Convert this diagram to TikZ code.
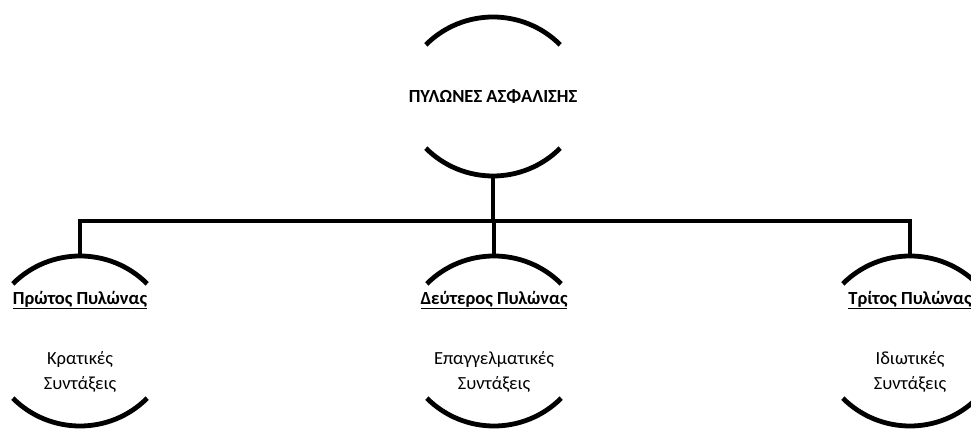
\documentclass[tikz,border=0pt]{standalone}
\usepackage{fontspec}
\setmainfont{Carlito}
\begin{document}
\begin{tikzpicture}[x=1pt,y=1pt,
  line/.style={line width=4.8pt},
  title/.style={font=\fontsize{18.5}{22}\selectfont\bfseries, inner sep=0pt},
  body/.style={font=\fontsize{18.5}{25}\selectfont, align=center, inner sep=0pt}]
\useasboundingbox (0,0) rectangle (971,430);
\clip (0,0) rectangle (971,430);
% shapes: arcs (center x, top apex y', bottom apex y')
\newcommand\pylonarcs[3]{%
  \draw[line] ([shift={(#1,#2-95)}]45:95) arc (45:135:95);
  \draw[line] ([shift={(#1,#3+95)}]-45:95) arc (-45:-135:95);}
\pylonarcs{493}{413}{254}
\pylonarcs{80}{174}{4}
\pylonarcs{494}{174}{4}
\pylonarcs{910}{174}{4}
% texts
\node[title] (top) at (493,333) {ΠΥΛΩΝΕΣ ΑΣΦΑΛΙΣΗΣ};
\node[title] (t1) at (80,130) {\underline{Πρώτος Πυλώνας}};
\node[title] (t2) at (494,130) {\underline{Δεύτερος Πυλώνας}};
\node[title] (t3) at (910,130) {\underline{Τρίτος Πυλώνας}};
\node[body] (b1) at (80,58) {Κρατικές\\Συντάξεις};
\node[body] (b2) at (494,58) {Επαγγελματικές\\Συντάξεις};
\node[body] (b3) at (910,58) {Ιδιωτικές\\Συντάξεις};
% connector points
\coordinate (topbot) at (493,254);
\coordinate (junction) at (493,209);
\coordinate (lefttop) at (80,174);
\coordinate (midtop) at (494,174);
\coordinate (righttop) at (910,174);
\draw[line] (topbot) -- (junction);
\draw[line] (junction) -| (lefttop);
\draw[line] (junction) -| (righttop);
\draw[line] (junction -| midtop) -- (midtop);
\end{tikzpicture}
\end{document}
